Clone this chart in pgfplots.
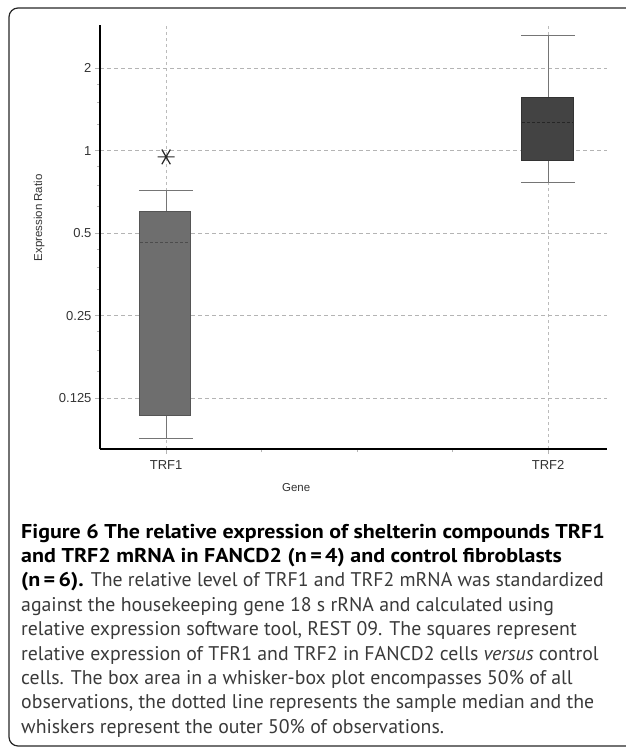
\documentclass[border=0pt]{standalone}
\usepackage{pgfplots}
\pgfplotsset{compat=1.18}
\usepackage{fontspec}
\setmainfont{Liberation Sans}
\newfontfamily\capfont{PT Sans}
\newfontfamily\capbold{PT Sans Bold}[FakeStretch=1.1]

\definecolor{gridgray}{HTML}{B4B4B4}
\definecolor{boxA}{HTML}{6E6E6E}
\definecolor{boxAedge}{HTML}{555555}
\definecolor{boxB}{HTML}{434343}
\definecolor{boxBedge}{HTML}{333333}
\definecolor{whisk}{HTML}{757575}
\definecolor{captext}{HTML}{3A3A3A}

\begin{document}
\begin{tikzpicture}
\path[use as bounding box] (0,0) rectangle (625pt,-748pt);
% frame (right side runs off the page)
\draw[line width=1.2pt, rounded corners=9pt, black!85]
  (650pt,-8pt) -- (9pt,-8pt) -- (9pt,-746pt) -- (650pt,-746pt);

\begin{axis}[
    at={(100pt,-449pt)}, anchor=south west,
    scale only axis, width=507pt, height=424pt,
    xmin=0.827, xmax=2.154,
    ymode=log,
    ymin=0.0817, ymax=2.88,
    axis lines*=left,
    axis line style={line width=1.6pt, black},
    xtick={1,2}, xticklabels={TRF1,TRF2},
    minor xtick={1.25,1.5,1.75},
    ytick={0.125,0.25,0.5,1,2},
    yticklabels={0.125,0.25,0.5,1,2},
    minor ytick={0.15625,0.1875,0.21875,0.3125,0.375,0.4375,0.625,0.75,0.875,1.25,1.5,1.75},
    tick align=outside,
    major tick length=5pt, minor tick length=3pt,
    tick style={gridgray, line width=0.8pt},
    xmajorgrids, ymajorgrids,
    major y grid style={gridgray, line width=0.8pt, dash pattern=on 4pt off 3pt},
    major x grid style={gridgray!90, line width=0.7pt, dash pattern=on 3pt off 3pt},
    yticklabel style={font=\fontsize{13}{13}\selectfont, text=black!80},
    xticklabel style={font=\fontsize{13}{13}\selectfont, text=black!80, yshift=-3pt},
    xlabel={Gene}, ylabel={Expression Ratio},
    xlabel style={at={(axis description cs:0.387,-0.09)}, anchor=center,
                  font=\fontsize{11.5}{11.5}\selectfont, text=black!80},
    ylabel style={at={(axis description cs:-0.12,0.545)}, anchor=center,
                  font=\fontsize{11.5}{11.5}\selectfont, text=black!80},
]
% TRF1
\addplot[whisk, line width=1pt] coordinates {(1,0.604) (1,0.720)};
\addplot[whisk, line width=1pt] coordinates {(0.929,0.720) (1.071,0.720)};
\addplot[whisk, line width=1pt] coordinates {(1,0.108) (1,0.089)};
\addplot[whisk, line width=1pt] coordinates {(0.929,0.089) (1.071,0.089)};
\addplot[fill=boxA, draw=boxAedge, line width=0.8pt]
  coordinates {(0.930,0.108) (1.063,0.108) (1.063,0.604) (0.930,0.604)} -- cycle;
\addplot[black!70, line width=0.9pt, dash pattern=on 3pt off 2pt]
  coordinates {(0.932,0.462) (1.061,0.462)};
% TRF2
\addplot[whisk, line width=1pt] coordinates {(2,1.574) (2,2.63)};
\addplot[whisk, line width=1pt] coordinates {(1.929,2.63) (2.071,2.63)};
\addplot[whisk, line width=1pt] coordinates {(2,0.927) (2,0.764)};
\addplot[whisk, line width=1pt] coordinates {(1.929,0.764) (2.071,0.764)};
\addplot[fill=boxB, draw=boxBedge, line width=0.8pt]
  coordinates {(1.930,0.927) (2.065,0.927) (2.065,1.574) (1.930,1.574)} -- cycle;
\addplot[black!85, line width=0.9pt, dash pattern=on 3pt off 2pt]
  coordinates {(1.932,1.265) (2.063,1.265)};
% significance mark
\addplot[only marks, mark=asterisk, mark size=8.5pt, black!85,
  mark options={line width=1.2pt, rotate=90}] coordinates {(1,0.951)};
\end{axis}

% caption
\begin{scope}[every node/.style={anchor=base west, inner sep=0pt,
    font=\capfont\fontsize{19.8}{19.8}\selectfont}]
\node[font=\capbold\fontsize{20}{20}\selectfont] at (21pt,-538pt)
  {Figure 6 The relative expression of shelterin compounds TRF1};
\node[font=\capbold\fontsize{20}{20}\selectfont] at (21pt,-562.4pt)
  {and TRF2 mRNA in FANCD2 (n\,=\,4) and control fibroblasts};
\node[text=captext] at (21pt,-586.8pt) {\textcolor{black}{\capbold\fontsize{20}{20}\selectfont (n\,=\,6).} The relative level of TRF1 and TRF2 mRNA was standardized};
\node[text=captext] at (21pt,-611.2pt) {against the housekeeping gene 18 s rRNA and calculated using};
\node[text=captext] at (21pt,-635.6pt) {relative expression software tool, REST 09. The squares represent};
\node[text=captext] at (21pt,-660pt)   {relative expression of TFR1 and TRF2 in FANCD2 cells \textit{versus} control};
\node[text=captext] at (21pt,-684.4pt) {cells. The box area in a whisker-box plot encompasses 50\% of all};
\node[text=captext] at (21pt,-708.8pt) {observations, the dotted line represents the sample median and the};
\node[text=captext] at (21pt,-733.2pt) {whiskers represent the outer 50\% of observations.};
\end{scope}
\end{tikzpicture}
\end{document}
